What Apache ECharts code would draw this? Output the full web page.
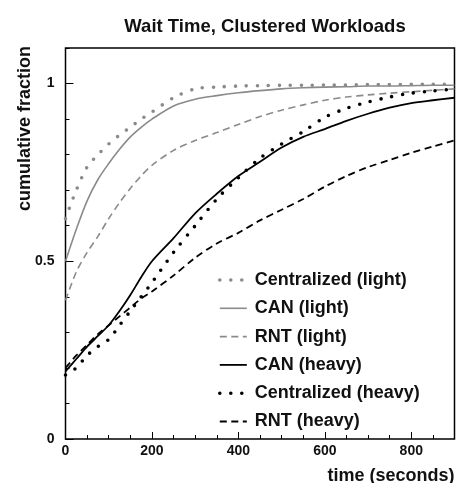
<!DOCTYPE html>
<html>
<head>
<meta charset="utf-8">
<script src="https://cdn.jsdelivr.net/npm/echarts@6/dist/echarts.min.js"></script>
<style>
  html, body { margin: 0; padding: 0; background: #fff; }
  #main { width: 460px; height: 483px; }
</style>
</head>
<body>
<div id="main"></div>
<script>
"use strict";

// time (seconds)
const times = [0, 25, 50, 75, 100, 125, 150, 175, 200, 250, 300, 350, 400, 450, 500, 550, 600, 650, 700, 750, 800, 850, 900];

const centralLight = [0.62, 0.70, 0.765, 0.80, 0.83, 0.855, 0.877, 0.90, 0.92, 0.96, 0.985, 0.99, 0.993, 0.994, 0.995, 0.995, 0.996, 0.996, 0.997, 0.997, 0.998, 0.998, 0.998];
const canLight = [0.50, 0.59, 0.67, 0.73, 0.775, 0.815, 0.85, 0.877, 0.90, 0.937, 0.956, 0.966, 0.974, 0.98, 0.985, 0.988, 0.99, 0.991, 0.993, 0.993, 0.994, 0.995, 0.995];
const rntLight = [0.39, 0.47, 0.525, 0.57, 0.62, 0.665, 0.705, 0.74, 0.77, 0.812, 0.84, 0.862, 0.885, 0.907, 0.925, 0.94, 0.953, 0.962, 0.968, 0.973, 0.977, 0.981, 0.985];
const canHeavy = [0.19, 0.225, 0.26, 0.29, 0.32, 0.36, 0.405, 0.455, 0.50, 0.565, 0.635, 0.69, 0.74, 0.78, 0.82, 0.85, 0.872, 0.895, 0.915, 0.932, 0.945, 0.953, 0.96];
const centralHeavy = [0.18, 0.20, 0.235, 0.26, 0.28, 0.32, 0.36, 0.40, 0.44, 0.525, 0.60, 0.675, 0.735, 0.79, 0.83, 0.865, 0.905, 0.93, 0.948, 0.962, 0.973, 0.979, 0.985];
const rntHeavy = [0.20, 0.235, 0.265, 0.295, 0.32, 0.345, 0.37, 0.395, 0.415, 0.46, 0.51, 0.55, 0.58, 0.615, 0.645, 0.675, 0.71, 0.74, 0.765, 0.785, 0.805, 0.823, 0.84];

const xLabels = [0, 200, 400, 600, 800];
const yLabels = [0, 0.5, 1];

const GRAY = '#8a8a8a';
const FONT = '"Liberation Sans", Arial, sans-serif';

// name, values, colour, dash, width
const seriesDefs = [
  ['Centralized (light)', centralLight, GRAY, [0, 11], 3.6],
  ['CAN (light)', canLight, GRAY, 'solid', 1.6],
  ['RNT (light)', rntLight, GRAY, [7, 4.5], 1.6],
  ['CAN (heavy)', canHeavy, '#000', 'solid', 1.8],
  ['Centralized (heavy)', centralHeavy, '#000', [0, 11], 3.6],
  ['RNT (heavy)', rntHeavy, '#000', [7, 4.5], 1.8],
];

function pairs(vals) {
  return times.map((t, i) => [t, vals[i]]);
}

function lineStyleOf(d) {
  return { color: d[2], width: d[4], type: d[3], cap: d[3][0] === 0 ? 'round' : 'butt' };
}

let myChart = echarts.init(document.getElementById('main'));

let option = {
  animation: false,
  title: {
    text: 'Wait Time, Clustered Workloads',
    left: 260,
    top: 12,
    textAlign: 'center',
    textStyle: { fontFamily: FONT, fontSize: 18.5, fontWeight: 'bold', color: '#111' },
  },
  grid: {
    left: 65.5,
    right: 5.5,
    top: 48,
    bottom: 44,
    show: true,
    borderColor: '#000',
    borderWidth: 1.5,
    outerBoundsMode: 'none',
    containLabel: false,
  },
  legend: {
    orient: 'vertical',
    left: 213,
    top: 266,
    itemWidth: 27,
    itemHeight: 18,
    itemGap: 10.3,
    itemStyle: { opacity: 0 },
    textStyle: { fontFamily: FONT, fontSize: 18, fontWeight: 'bold', color: '#111', padding: [0, 0, 0, 3] },
    data: seriesDefs.map(d => ({ name: d[0], lineStyle: lineStyleOf(d), itemStyle: { opacity: 0 } })),
  },
  xAxis: [
    {
      type: 'value',
      min: 0,
      max: 900,
      interval: 50,
      name: 'time (seconds)',
      nameLocation: 'end',
      nameGap: 0,
      nameMoveOverlap: false,
      nameTextStyle: { fontFamily: FONT, fontSize: 18, fontWeight: 'bold', color: '#111', align: 'right', verticalAlign: 'top', padding: [28, 0, 0, 0] },
      axisLine: { show: false },
      axisTick: { show: true, inside: true, length: 4, lineStyle: { color: '#000', width: 1 } },
      axisLabel: {
        customValues: xLabels,
        margin: 5,
        fontFamily: FONT, fontSize: 14, fontWeight: 'bold', color: '#111',
      },
      splitLine: { show: false },
    },
    {
      type: 'value',
      min: 0,
      max: 900,
      position: 'bottom',
      axisLine: { show: false },
      axisTick: { show: true, inside: true, length: 7, customValues: xLabels, lineStyle: { color: '#000', width: 1 } },
      axisLabel: { show: false },
      splitLine: { show: false },
    },
  ],
  yAxis: [
    {
      type: 'value',
      min: 0,
      max: 1.1,
      interval: 0.1,
      name: 'cumulative fraction',
      nameLocation: 'middle',
      nameGap: 31,
      nameMoveOverlap: false,
      nameRotate: 90,
      nameTextStyle: { fontFamily: FONT, fontSize: 18, fontWeight: 'bold', color: '#111', padding: [0, 0, 0, 230] },
      axisLine: { show: false },
      axisTick: { show: true, inside: true, length: 4, lineStyle: { color: '#000', width: 1 } },
      axisLabel: {
        customValues: yLabels,
        margin: 11,
        fontFamily: FONT, fontSize: 14, fontWeight: 'bold', color: '#111',
      },
      splitLine: { show: false },
    },
    {
      type: 'value',
      min: 0,
      max: 1.1,
      position: 'left',
      axisLine: { show: false },
      axisTick: { show: true, inside: true, length: 8, customValues: yLabels, lineStyle: { color: '#000', width: 1 } },
      axisLabel: { show: false },
      splitLine: { show: false },
    },
  ],
  series: seriesDefs.map(d => ({
    name: d[0],
    type: 'line',
    xAxisIndex: 0,
    yAxisIndex: 0,
    data: pairs(d[1]),
    smooth: 0.3,
    symbol: 'none',
    lineStyle: lineStyleOf(d),
    itemStyle: { color: d[2] },
    z: 3,
  })),
};

myChart.setOption(option);
</script>
</body>
</html>
